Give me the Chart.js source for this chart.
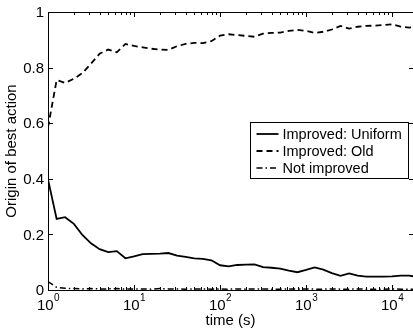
<!DOCTYPE html>
<html>
<head>
<meta charset="utf-8">
<script src="https://cdn.jsdelivr.net/npm/chart.js@4"></script>
<style>
  body { margin: 0; background: #fff; }
  #wrap { width: 413px; height: 332px; }
</style>
</head>
<body>
<div id="wrap"><canvas id="canvas"></canvas></div>
<script>
const times = [1, 1.26, 1.58, 2, 2.51, 3.16, 3.98, 5.01, 6.31, 7.94,
  10, 12.6, 15.8, 20, 25.1, 31.6, 39.8, 50.1, 63.1, 79.4,
  100, 126, 158, 200, 251, 316, 398, 501, 631, 794,
  1000, 1259, 1585, 1995, 2512, 3162, 3981, 5012, 6310, 7943,
  10000, 12589, 15849, 19953];

const uniform = [0.398, 0.256, 0.262, 0.238, 0.198, 0.168, 0.147, 0.136, 0.140, 0.114,
  0.121, 0.129, 0.130, 0.131, 0.133, 0.124, 0.119, 0.114, 0.112, 0.107,
  0.089, 0.085, 0.090, 0.091, 0.092, 0.082, 0.080, 0.077, 0.070, 0.064,
  0.072, 0.081, 0.073, 0.061, 0.051, 0.060, 0.052, 0.048, 0.048, 0.048,
  0.049, 0.052, 0.052, 0.046];

const old = [0.585, 0.755, 0.745, 0.760, 0.780, 0.814, 0.850, 0.865, 0.855, 0.885,
  0.878, 0.873, 0.868, 0.865, 0.864, 0.877, 0.885, 0.889, 0.888, 0.895,
  0.915, 0.920, 0.917, 0.914, 0.911, 0.922, 0.925, 0.926, 0.932, 0.936,
  0.932, 0.925, 0.929, 0.937, 0.950, 0.940, 0.947, 0.950, 0.951, 0.953,
  0.956, 0.947, 0.944, 0.946];

const notImproved = [0.030, 0.010, 0.006, 0.005, 0.004, 0.005, 0.004, 0.004, 0.005, 0.003,
  0.004, 0.004, 0.003, 0.005, 0.004, 0.004, 0.003, 0.004, 0.004, 0.003,
  0.004, 0.003, 0.004, 0.003, 0.004, 0.004, 0.003, 0.003, 0.004, 0.003,
  0.004, 0.003, 0.003, 0.004, 0.003, 0.003, 0.004, 0.003, 0.003, 0.003,
  0.004, 0.003, 0.003, 0.003];

const yTicks = [0, 0.2, 0.4, 0.6, 0.8, 1];
const yTickLabels = ["0", "0.2", "0.4", "0.6", "0.8", "1"];
const xDecades = [0, 1, 2, 3, 4];

const FONT = '"Liberation Sans", Arial, Helvetica, sans-serif';

const toPoints = (vals) => vals.map((v, i) => ({ x: times[i], y: v }));

// matlab style box, inward ticks, labels and legend
const axesPlugin = {
  id: "axesPlugin",
  afterDraw(chart) {
    const ctx = chart.ctx;
    const a = chart.chartArea;
    const xs = chart.scales.x;
    const ys = chart.scales.y;
    ctx.save();
    ctx.strokeStyle = "#000";
    ctx.fillStyle = "#000";
    ctx.lineWidth = 1;

    // frame
    ctx.beginPath();
    ctx.moveTo(a.left + 0.5, a.top + 0.5);
    ctx.lineTo(a.right + 0.5, a.top + 0.5);
    ctx.moveTo(a.left + 0.5, a.top);
    ctx.lineTo(a.left + 0.5, a.bottom + 1);
    ctx.moveTo(a.left, a.bottom + 0.5);
    ctx.lineTo(a.right + 0.5, a.bottom + 0.5);
    ctx.moveTo(a.right + 0.5, a.top);
    ctx.lineTo(a.right + 0.5, a.bottom);
    ctx.stroke();

    // y ticks
    ctx.beginPath();
    yTicks.forEach((v) => {
      const py = Math.round(ys.getPixelForValue(v)) + 0.5;
      ctx.moveTo(a.left, py);
      ctx.lineTo(a.left + 5, py);
      ctx.moveTo(a.right - 4, py);
      ctx.lineTo(a.right, py);
    });
    // x ticks (major + minor)
    xDecades.forEach((d) => {
      for (let m = 1; m <= 9; m++) {
        const v = m * Math.pow(10, d);
        if (v > xs.max) break;
        const px = Math.round(xs.getPixelForValue(v)) + 0.5;
        const len = m === 1 ? 5 : 3;
        ctx.moveTo(px, a.bottom);
        ctx.lineTo(px, a.bottom - len);
        ctx.moveTo(px, a.top);
        ctx.lineTo(px, a.top + len);
      }
    });
    ctx.stroke();

    // y tick labels
    ctx.font = "15px " + FONT;
    ctx.textAlign = "right";
    ctx.textBaseline = "middle";
    yTicks.forEach((v, i) => {
      ctx.fillText(yTickLabels[i], a.left - 4, ys.getPixelForValue(v) + 1);
    });

    // x tick labels 10^n
    ctx.textBaseline = "alphabetic";
    ctx.textAlign = "left";
    xDecades.forEach((d) => {
      const px = xs.getPixelForValue(Math.pow(10, d));
      ctx.font = "15px " + FONT;
      const w1 = ctx.measureText("10").width;
      ctx.font = "10px " + FONT;
      const w2 = ctx.measureText(String(d)).width;
      const x0 = px - (w1 + w2) / 2;
      ctx.font = "15px " + FONT;
      ctx.fillText("10", x0, a.bottom + 20);
      ctx.font = "10px " + FONT;
      ctx.fillText(String(d), x0 + w1 + 0.5, a.bottom + 11);
    });

    // axis titles
    ctx.font = "15px " + FONT;
    ctx.textAlign = "center";
    ctx.textBaseline = "middle";
    ctx.fillText("time (s)", (a.left + a.right) / 2, a.bottom + 31);
    ctx.save();
    ctx.translate(12, (a.top + a.bottom) / 2);
    ctx.rotate(-Math.PI / 2);
    ctx.fillText("Origin of best action", 0, 0);
    ctx.restore();

    // legend
    const lx = 250.5, ly = 122.5, lw = 158, lh = 56;
    ctx.fillStyle = "#fff";
    ctx.fillRect(lx, ly, lw, lh);
    ctx.strokeStyle = "#000";
    ctx.strokeRect(lx, ly, lw, lh);
    ctx.fillStyle = "#000";
    ctx.font = "14.5px " + FONT;
    ctx.textAlign = "left";
    ctx.textBaseline = "middle";
    chart.data.datasets.forEach((ds, i) => {
      const yy = ly + 11.5 + i * 17;
      ctx.save();
      ctx.lineWidth = ds.borderWidth;
      ctx.setLineDash(ds.borderDash || []);
      ctx.beginPath();
      ctx.moveTo(lx + 6, yy);
      ctx.lineTo(lx + 28, yy);
      ctx.stroke();
      ctx.restore();
      ctx.fillText(ds.label, lx + 32, yy + 1);
    });
    ctx.restore();
  }
};

const data = {
  datasets: [
    {
      label: "Improved: Uniform",
      data: toPoints(uniform),
      borderColor: "#000",
      borderWidth: 1.8,
      borderDash: [],
    },
    {
      label: "Improved: Old",
      data: toPoints(old),
      borderColor: "#000",
      borderWidth: 1.8,
      borderDash: [6, 4],
    },
    {
      label: "Not improved",
      data: toPoints(notImproved),
      borderColor: "#000",
      borderWidth: 1.5,
      borderDash: [6, 3, 1.5, 3],
    },
  ],
};

const config = {
  type: "line",
  data: data,
  options: {
    responsive: true,
    maintainAspectRatio: false,
    animation: false,
    layout: { padding: { top: 12, left: 0, right: 0, bottom: 0 } },
    elements: { point: { radius: 0 }, line: { tension: 0 } },
    plugins: { legend: { display: false }, tooltip: { enabled: false } },
    scales: {
      x: {
        type: "logarithmic",
        min: 1,
        max: 17500,
        ticks: { display: false },
        grid: { display: false },
        border: { display: false },
        afterFit: (s) => { s.height = 42; },
      },
      y: {
        min: 0,
        max: 1,
        ticks: { display: false },
        grid: { display: false },
        border: { display: false },
        afterFit: (s) => { s.width = 48; },
      },
    },
  },
  plugins: [axesPlugin],
};

const canvas = document.getElementById("canvas");
const chart = new Chart(canvas, config);
</script>
</body>
</html>
